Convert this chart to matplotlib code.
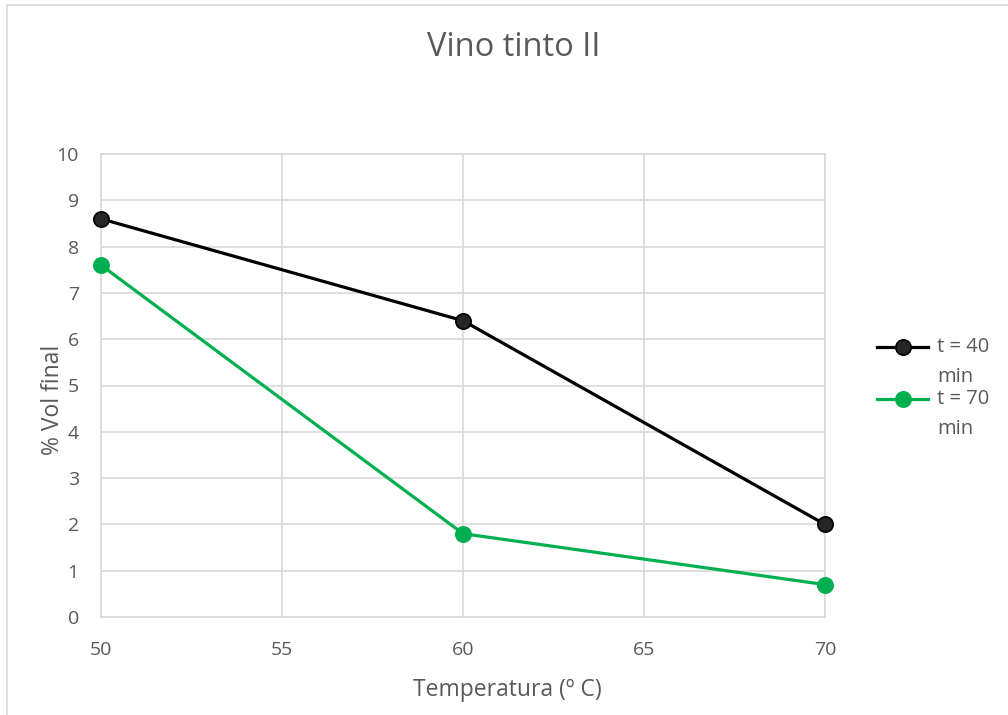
import matplotlib
matplotlib.use("Agg")
import matplotlib.pyplot as plt
from matplotlib.lines import Line2D

plt.rcParams["font.family"] = ["Open Sans", "DejaVu Sans"]

temperatura = [50, 60, 70]
vol_t40 = [8.6, 6.4, 2.0]
vol_t70 = [7.6, 1.8, 0.7]
series_labels = ["t = 40 min", "t = 70 min"]
x_ticks = [50, 55, 60, 65, 70]
y_ticks = list(range(0, 11))

text_color = "#595959"
grid_color = "#d9d9d9"

W, H = 1008, 715
fig = plt.figure(figsize=(W / 100, H / 100), dpi=100)
ax = fig.add_axes([101 / W, 1 - 617 / H, 724 / W, 463 / H])

styles = [
    dict(color="black", mfc="#262626", mec="black", mew=1.2),
    dict(color="#00b050", mfc="#00b050", mec="#00b050", mew=1.2),
]
for y, st in zip([vol_t40, vol_t70], styles):
    ax.plot(temperatura, y, lw=2.3, marker="o", ms=11, clip_on=False,
            zorder=3, **st)

ax.set_xlim(50, 70)
ax.set_ylim(0, 10)
ax.set_xticks(x_ticks)
ax.set_yticks(y_ticks)
ax.grid(True, color=grid_color, lw=1.2)
ax.set_axisbelow(True)
for s in ax.spines.values():
    s.set_color(grid_color)
    s.set_linewidth(1.2)
ax.tick_params(length=0, labelsize=14, colors=text_color)
ax.tick_params(axis="y", pad=16)
ax.tick_params(axis="x", pad=17)

ax.set_xlabel("Temperatura (º C)", fontsize=16.5, color=text_color, va="center")
ax.xaxis.set_label_coords((507 - 101) / 724, (617 - 690) / 463)
ax.set_ylabel("% Vol final", fontsize=16.5, color=text_color, va="center")
ax.yaxis.set_label_coords((53 - 101) / 724, (617 - 400) / 463)
fig.text(514 / W, 1 - 48 / H, "Vino tinto II", fontsize=23.5,
         color=text_color, ha="center", va="center")

# legend: handle beside the first line of each wrapped label
for i, (label, st) in enumerate(zip(series_labels, styles)):
    yl = 1 - (347 + 52 * i) / H
    fig.add_artist(Line2D([877 / W, 928 / W], [yl, yl], lw=2.3,
                          transform=fig.transFigure, color=st["color"]))
    fig.add_artist(Line2D([903 / W], [yl], marker="o", ms=11,
                          transform=fig.transFigure, **st))
    first, second = label.rsplit(" ", 1)
    fig.text(937 / W, yl, first, fontsize=14.5, color=text_color, va="center")
    fig.text(937 / W, yl - 30 / H, second, fontsize=14.5, color=text_color,
             va="center")

# outer chart frame
fig.add_artist(Line2D([7 / W, 7 / W], [0, 1 - 5 / H], color=grid_color, lw=1.2,
                      transform=fig.transFigure))
fig.add_artist(Line2D([7 / W, 1], [1 - 5 / H, 1 - 5 / H], color=grid_color,
                      lw=1.2, transform=fig.transFigure))

fig.savefig("out.png", dpi=100)
